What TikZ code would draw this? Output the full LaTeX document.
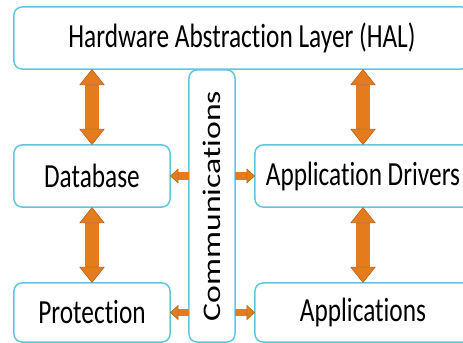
\documentclass[tikz,border=0pt]{standalone}
\usepackage{fontspec}
\setmainfont[Ligatures=NoCommon]{Carlito}
\usepackage{graphicx}
\usetikzlibrary{arrows.meta}

\definecolor{boxblue}{RGB}{98,198,223}
\definecolor{arroworange}{RGB}{228,124,30}
\definecolor{arrowdark}{RGB}{186,96,24}

% squeeze text horizontally like the original slide
\newcommand{\sq}[1]{\scalebox{0.75}[1]{#1}}

\begin{document}
\begin{tikzpicture}[
  x=0.025cm, y=-0.025cm,
  block/.style={
    shape=rectangle,
    rounded corners=0.2cm,
    draw=boxblue,
    line width=0.0375cm,
    fill=white,
    inner sep=0pt,
    outer sep=0pt,
    font=\fontsize{24}{28}\selectfont
  },
  updown/.style={
    arroworange, line width=0.33cm,
    {Triangle[width=0.63cm, length=0.4cm, fill=arroworange, color=arrowdark, line width=0.4pt]}-{Triangle[width=0.63cm, length=0.4cm, fill=arroworange, color=arrowdark, line width=0.4pt]}
  },
  side/.style={
    arroworange, line width=0.19cm,
    -{Triangle[width=0.38cm, length=0.21cm, fill=arroworange, color=arrowdark, line width=0.4pt]}
  }
]

\path [use as bounding box, clip] (0, 0) rectangle (463, 343);

\draw (242, 38) node [block, minimum width=11.4cm, minimum height=1.55cm] (hal) {\sq{Hardware Abstraction Layer (HAL)}};
\draw (92, 176) node [block, minimum width=3.9cm, minimum height=1.55cm] (db) {\sq{Database}};
\draw (92, 312.5) node [block, minimum width=3.9cm, minimum height=1.475cm] (prot) {\sq{Protection}};
\draw (363, 176) node [block, minimum width=5.4cm, minimum height=1.55cm] (drv) {\sq{Application Drivers}};
\draw (363, 312.5) node [block, minimum width=5.4cm, minimum height=1.475cm] (apps) {\sq{Applications}};
\draw (212, 206) node [block, minimum width=1.15cm, minimum height=6.8cm] (comm) {\sq{\rotatebox{90}{Communications}}};

\path
  (hal.south -| db.north) edge [updown] (db.north)
  (db.south) edge [updown] (prot.north)
  (hal.south -| drv.north) edge [updown] (drv.north)
  (drv.south) edge [updown] (apps.north)
  ;

\path
  (comm.west |- db.east) edge [side] (db.east)
  (comm.east |- drv.west) edge [side] (drv.west)
  (comm.west |- prot.east) edge [side] (prot.east)
  (comm.east |- apps.west) edge [side] (apps.west)
  ;
\end{tikzpicture}
\end{document}
